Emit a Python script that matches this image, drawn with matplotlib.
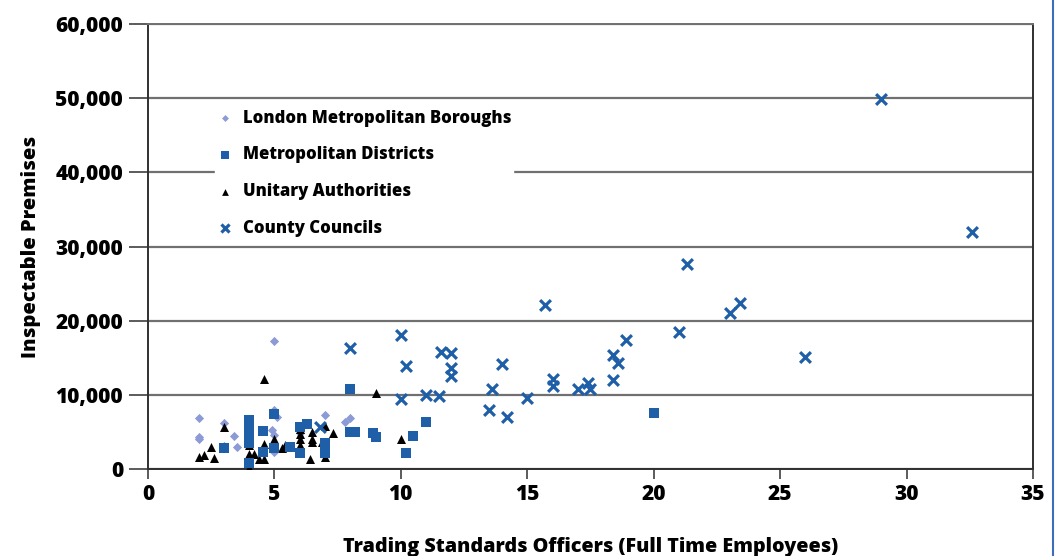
import matplotlib
matplotlib.use('Agg')
import matplotlib.pyplot as plt
from matplotlib.lines import Line2D

plt.rcParams['font.family'] = ['Open Sans', 'DejaVu Sans']
plt.rcParams['font.weight'] = 'heavy'

# London Metropolitan Boroughs
london_x = [2.0, 2.0, 2.0, 3.0, 3.4, 3.5, 5.0, 5.0, 5.1, 4.9, 5.0, 5.0, 7.0, 7.8, 8.0, 6.0, 3.0]
london_y = [6900, 4300, 4000, 6200, 4400, 2900, 17200, 7900, 7000, 5300, 4600, 2300, 7300, 6300, 6900, 4900, 3100]

# Metropolitan Districts
metro_x = [3.0, 4.0, 4.0, 4.0, 4.0, 4.0, 4.55, 4.55, 5.0, 5.0, 5.6, 6.0, 6.3, 6.0, 7.0, 7.0,
           8.0, 8.2, 8.9, 9.0, 8.0, 10.2, 10.5, 11.0, 20.0]
metro_y = [2800, 6600, 5600, 4300, 3500, 750, 5150, 2300, 7400, 2800, 2900, 5700, 6100, 2200, 3500, 2200,
           5000, 5000, 4900, 4350, 10800, 2200, 4450, 6400, 7600]

# Unitary Authorities
unitary_x = [2.0, 2.2, 2.5, 2.6, 3.0, 4.0, 4.0, 4.0, 4.2, 4.4, 4.6, 4.6, 4.6, 5.0, 5.3, 5.4,
             6.0, 6.0, 6.0, 6.0, 6.4, 6.5, 6.5, 6.5, 7.0, 7.0, 6.9, 7.3, 9.0, 10.0]
unitary_y = [1600, 1900, 2900, 1500, 5700, 3200, 2000, 100, 2000, 1400, 1400, 3400, 12100, 4000, 2800, 3300,
             5400, 4700, 4000, 3300, 1300, 5000, 4100, 3700, 5800, 1600, 3600, 4800, 10300, 4000]

# County Councils
county_x = [8.0, 6.8, 10.0, 10.2, 10.0, 11.0, 11.5, 11.6, 12.0, 12.0, 12.0, 13.6, 13.5, 14.0, 14.2,
            15.0, 15.7, 16.0, 16.0, 17.0, 17.4, 17.5, 18.4, 18.4, 18.6, 18.9, 21.0, 21.3, 23.0, 23.4,
            26.0, 29.0, 32.6]
county_y = [16300, 5700, 18100, 13900, 9500, 10000, 9850, 15800, 15650, 13600, 12500, 10800, 8000, 14200, 7050,
            9600, 22150, 12150, 11200, 10800, 11600, 10800, 12000, 15400, 14300, 17400, 18500, 27700, 21050, 22400,
            15100, 49900, 32000]

xticks = list(range(0, 36, 5))
yticks = list(range(0, 60001, 10000))

fig = plt.figure(figsize=(10.55, 5.56), dpi=100)
ax = fig.add_axes([0.1403, 0.1565, 0.8388, 0.8003])

ax.scatter(london_x, london_y, marker='D', s=22, color='#8c9bd6', linewidths=0,
           label='London Metropolitan Boroughs', zorder=3)
ax.scatter(metro_x, metro_y, marker='s', s=60, color='#1f5fa8', linewidths=0,
           label='Metropolitan Districts', zorder=5)
ax.scatter(unitary_x, unitary_y, marker='^', s=42, color='black', linewidths=0,
           label='Unitary Authorities', zorder=4)
ax.scatter(county_x, county_y, marker='x', s=60, color='#1f5fa8', linewidths=2.3,
           label='County Councils', zorder=6)

ax.set_xlim(0, 35)
ax.set_ylim(0, 60000)
ax.set_xticks(xticks, labels=[str(v) for v in xticks], fontweight='heavy', fontsize=15)
ax.set_yticks(yticks, labels=['{:,}'.format(v) for v in yticks], fontweight='heavy', fontsize=15)

ax.yaxis.grid(True, color='#707070', linewidth=1.6, zorder=1)
ax.set_axisbelow(True)
ax.tick_params(axis='y', length=14, width=1.2, color='#404040', pad=4)
ax.tick_params(axis='x', length=7, width=1.2, color='#404040', pad=4)

ax.spines['left'].set_color('#303030')
ax.spines['bottom'].set_color('#303030')
ax.spines['top'].set_color('#707070')
ax.spines['right'].set_color('#303030')
for s in ax.spines.values():
    s.set_linewidth(1.4)

ax.set_ylabel('Inspectable Premises', fontsize=14.5, fontweight='heavy', labelpad=10)
ax.set_xlabel('Trading Standards Officers (Full Time Employees)', fontsize=14.2, fontweight='heavy', labelpad=23)

leg = ax.legend(loc='upper left', bbox_to_anchor=(0.066, 0.83), frameon=True, fancybox=False,
                edgecolor='white', facecolor='white', framealpha=1,
                prop={'size': 12, 'weight': 'heavy'},
                labelspacing=1.18, handletextpad=0.6, borderpad=0.1, handlelength=1.0,
                markerscale=0.75)
leg.set_zorder(2)

fig.add_artist(Line2D([0.9985, 0.9985], [0, 1], color='#3d6fb8', linewidth=1.5))

fig.savefig('out.png', dpi=100, facecolor='white')
